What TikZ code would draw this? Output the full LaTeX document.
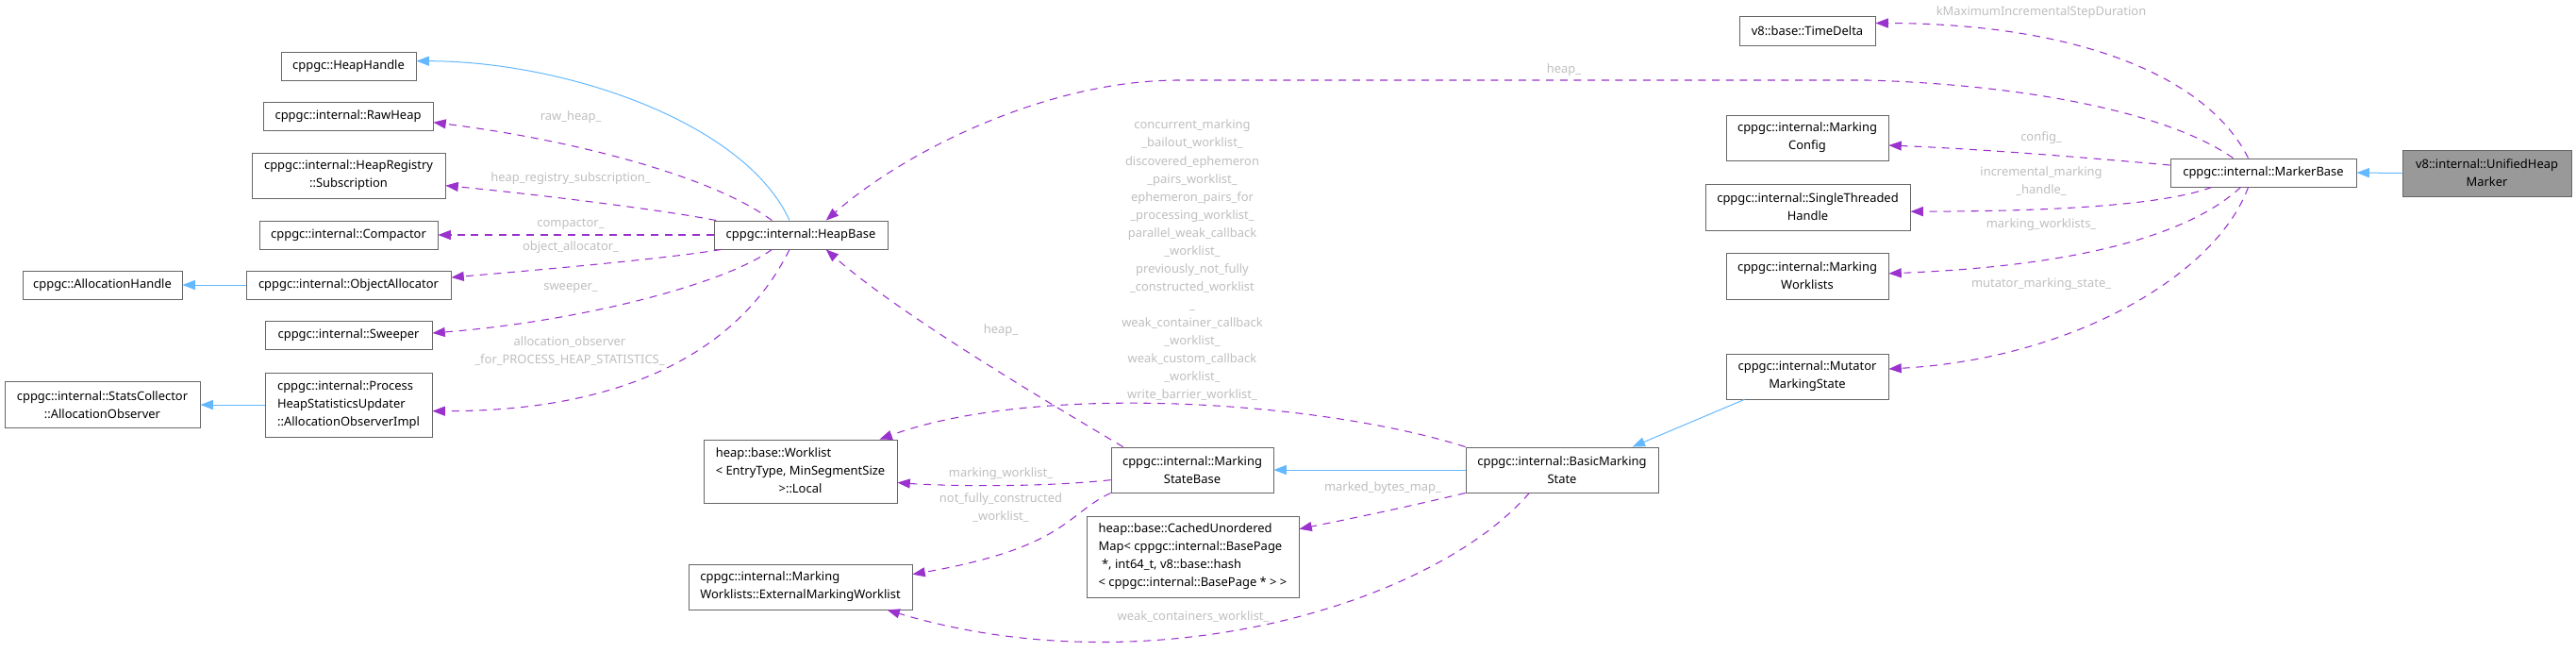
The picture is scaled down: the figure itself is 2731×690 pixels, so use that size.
\documentclass[tikz,border=0pt]{standalone}
\usepackage{fontspec}
\setmainfont{Noto Sans}
\usepackage{xcolor}
\usetikzlibrary{arrows.meta}
\definecolor{edgeblue}{HTML}{63B8FF}
\definecolor{edgepurple}{HTML}{9A32CD}
\definecolor{boxgray}{HTML}{666666}
\definecolor{labelgray}{HTML}{BEBEBE}
\definecolor{mainfill}{HTML}{999999}

\begin{document}
\begin{tikzpicture}[x=0.75pt,y=-0.75pt,
  every node/.style={font=\fontsize{9.7pt}{14.3pt}\selectfont},
  cls/.style={draw=boxgray,line width=0.65pt,fill=white,inner xsep=3pt,inner ysep=0pt,align=center},
  lbl/.style={text=labelgray,align=center,inner sep=0pt},
  inherit/.style={draw=edgeblue,line width=0.75pt,-{Triangle[length=10pt,width=7.5pt]}},
  uses/.style={draw=edgepurple,line width=0.8pt,dash pattern=on 6pt off 5pt,-{Triangle[length=10pt,width=7.5pt]}}]
  \useasboundingbox (0,0) rectangle (2731,690);

  \node[cls,minimum width=107.25pt,minimum height=22.5pt] (heaphandle) at (369.5,70) {cppgc::HeapHandle};
  \node[cls,minimum width=135pt,minimum height=22.5pt] (rawheap) at (369,123) {cppgc::internal::RawHeap};
  \node[cls,minimum width=153.75pt,minimum height=36pt] (subscription) at (369.5,186) {cppgc::internal::HeapRegistry\\::Subscription};
  \node[cls,minimum width=141.75pt,minimum height=22.5pt] (compactor) at (369.5,249) {cppgc::internal::Compactor};
  \node[cls,minimum width=162.75pt,minimum height=22.5pt] (objalloc) at (369.5,302) {cppgc::internal::ObjectAllocator};
  \node[cls,minimum width=126.75pt,minimum height=22.5pt] (allochandle) at (108.5,302) {cppgc::AllocationHandle};
  \node[cls,minimum width=132.75pt,minimum height=22.5pt] (sweeper) at (369.5,355) {cppgc::internal::Sweeper};
  \node[cls,align=left,minimum width=132.75pt,minimum height=51pt] (procheap) at (369.5,429) {cppgc::internal::Process\\HeapStatisticsUpdater\\::AllocationObserverImpl};
  \node[cls,minimum width=155.25pt,minimum height=36.75pt] (allocobserver) at (108.5,429) {cppgc::internal::StatsCollector\\::AllocationObserver};
  \node[cls,minimum width=138pt,minimum height=22.5pt] (heapbase) at (849,249) {cppgc::internal::HeapBase};
  \node[cls,minimum width=153.75pt,minimum height=50.25pt] (worklistlocal) at (848.5,499.5) {\begin{tabular}{@{}l@{}}heap::base::Worklist\\< EntryType, MinSegmentSize\\\multicolumn{1}{@{}c@{}}{>::Local}\end{tabular}};
  \node[cls,align=left,minimum width=177.75pt,minimum height=36pt] (extworklist) at (848.5,622) {cppgc::internal::Marking\\Worklists::ExternalMarkingWorklist};
  \node[cls,minimum width=129pt,minimum height=36pt] (markingstatebase) at (1264,498) {cppgc::internal::Marking\\StateBase};
  \node[cls,align=left,minimum width=168.75pt,minimum height=64.5pt] (cachedmap) at (1264.5,590) {heap::base::CachedUnordered\\Map< cppgc::internal::BasePage\\\ *, int64\_t, v8::base::hash\\< cppgc::internal::BasePage * > >};
  \node[cls,minimum width=153pt,minimum height=36pt] (basicmarking) at (1656,498) {cppgc::internal::BasicMarking\\State};
  \node[cls,minimum width=129pt,minimum height=36pt] (mutatorstate) at (1916,399) {cppgc::internal::Mutator\\MarkingState};
  \node[cls,minimum width=108pt,minimum height=23.25pt] (timedelta) at (1916,32.5) {v8::base::TimeDelta};
  \node[cls,minimum width=129pt,minimum height=36pt] (markingconfig) at (1916,146) {cppgc::internal::Marking\\Config};
  \node[cls,minimum width=162.75pt,minimum height=36.75pt] (singlethreaded) at (1916.5,219.5) {cppgc::internal::SingleThreaded\\Handle};
  \node[cls,minimum width=129pt,minimum height=36.75pt] (markingworklists) at (1916,292.5) {cppgc::internal::Marking\\Worklists};
  \node[cls,minimum width=147.75pt,minimum height=22.5pt] (markerbase) at (2399.5,183) {cppgc::internal::MarkerBase};
  \node[cls,fill=mainfill,minimum width=134.25pt,minimum height=36.75pt] (unifiedmarker) at (2636.5,183.5) {v8::internal::UnifiedHeap\\Marker};

  \draw[inherit] ([xshift=-9pt]heapbase.north) .. controls (790,130) and (600,65) .. ([yshift=4pt]heaphandle.east);
  \draw[uses] ([xshift=-23pt]heapbase.north) .. controls (760,190) and (620,150) .. ([yshift=-5pt]rawheap.east);
  \draw[uses] ([xshift=2pt]heapbase.north west) .. controls (700,222) and (560,205) .. ([yshift=-8pt]subscription.east);
  \draw[uses] (heapbase.west) -- (compactor.east);
  \draw[uses] ([xshift=6pt]heapbase.south west) .. controls (700,275) and (560,287) .. ([yshift=6pt]objalloc.east);
  \draw[inherit] (objalloc.west) -- (allochandle.east);
  \draw[uses] ([xshift=-23pt]heapbase.south) .. controls (770,300) and (620,340) .. ([yshift=1.5pt]sweeper.east);
  \draw[uses] ([xshift=-9pt]heapbase.south) .. controls (790,360) and (680,436) .. ([yshift=-5pt]procheap.east);
  \draw[inherit] (procheap.west) -- (allocobserver.east);
  \draw[uses] ([xshift=-55pt]markingstatebase.north) .. controls (1100,420) and (950,330) .. ([xshift=20pt]heapbase.south);
  \draw[uses] ([xshift=-24pt]markerbase.north) .. controls (2300,120) and (2150,90) .. (1980,85) -- (1250,85) .. controls (1110,85) and (960,160) .. ([xshift=20pt]heapbase.north);
  \draw[uses] ([xshift=-12pt]markerbase.north) .. controls (2340,80) and (2200,25) .. ([yshift=6pt]timedelta.east);
  \draw[uses] ([yshift=6pt]markerbase.west) .. controls (2200,166) and (2100,158) .. ([yshift=-6pt]markingconfig.east);
  \draw[uses] ([xshift=-41pt]markerbase.south) .. controls (2300,215) and (2200,224) .. ([yshift=-3.5pt]singlethreaded.east);
  \draw[uses] ([xshift=-18pt]markerbase.south) .. controls (2320,250) and (2200,282) .. ([yshift=2pt]markingworklists.east);
  \draw[uses] ([xshift=-12pt]markerbase.south) .. controls (2350,290) and (2200,380) .. ([yshift=6pt]mutatorstate.east);
  \draw[inherit] (unifiedmarker.west) -- (markerbase.east);
  \draw[inherit] ([xshift=-50pt]mutatorstate.south) -- ([xshift=56pt]basicmarking.north);
  \draw[inherit] (basicmarking.west) -- (markingstatebase.east);
  \draw[uses] (basicmarking.north west) .. controls (1400,425) and (1100,405) .. ([xshift=63pt]worklistlocal.north);
  \draw[uses] ([yshift=-8pt]markingstatebase.west) .. controls (1100,517) and (1000,515) .. ([yshift=-9pt]worklistlocal.east);
  \draw[uses] (markingstatebase.south west) .. controls (1130,545) and (1130,580) .. ([yshift=10pt]extworklist.east);
  \draw[uses] (basicmarking.south west) .. controls (1480,540) and (1430,550) .. ([yshift=22pt]cachedmap.east);
  \draw[uses] ([xshift=-26pt]basicmarking.south) .. controls (1520,640) and (1220,730) .. ([xshift=69pt]extworklist.south);

  \node[lbl] (lrawheap) at (605,124) {raw\_heap\_};
  \node[lbl] (lsubscription) at (605,189) {heap\_registry\_subscription\_};
  \node[lbl] (lcompactor) at (605,238) {compactor\_};
  \node[lbl] (lobjalloc) at (605,262) {object\_allocator\_};
  \node[lbl] (lsweeper) at (605,306) {sweeper\_};
  \node[lbl] (lprocheap) at (604,372.5) {allocation\_observer\\\_for\_PROCESS\_HEAP\_STATISTICS\_};
  \node[lbl] (lheapmsb) at (1061,350) {heap\_};
  \node[lbl] (lheapmb) at (1658,74) {heap\_};
  \node[lbl] (lworklists) at (1264,276) {concurrent\_marking\\\_bailout\_worklist\_\\discovered\_ephemeron\\\_pairs\_worklist\_\\ephemeron\_pairs\_for\\\_processing\_worklist\_\\parallel\_weak\_callback\\\_worklist\_\\previously\_not\_fully\\\_constructed\_worklist\\\_\\weak\_container\_callback\\\_worklist\_\\weak\_custom\_callback\\\_worklist\_\\write\_barrier\_worklist\_};
  \node[lbl] (lmarkingworklist) at (1061,502) {marking\_worklist\_};
  \node[lbl] (lnotfully) at (1061,538.5) {not\_fully\_constructed\\\_worklist\_};
  \node[lbl] (lmarkedbytes) at (1466,517) {marked\_bytes\_map\_};
  \node[lbl] (lweakcontainers) at (1265,654) {weak\_containers\_worklist\_};
  \node[lbl] (lstepduration) at (2164,13) {kMaximumIncrementalStepDuration};
  \node[lbl] (lconfig) at (2164,146) {config\_};
  \node[lbl] (lhandle) at (2164,192.5) {incremental\_marking\\\_handle\_};
  \node[lbl] (lmarkingworklists) at (2164,238) {marking\_worklists\_};
  \node[lbl] (lmutatorstate) at (2164,301) {mutator\_marking\_state\_};
\end{tikzpicture}
\end{document}
